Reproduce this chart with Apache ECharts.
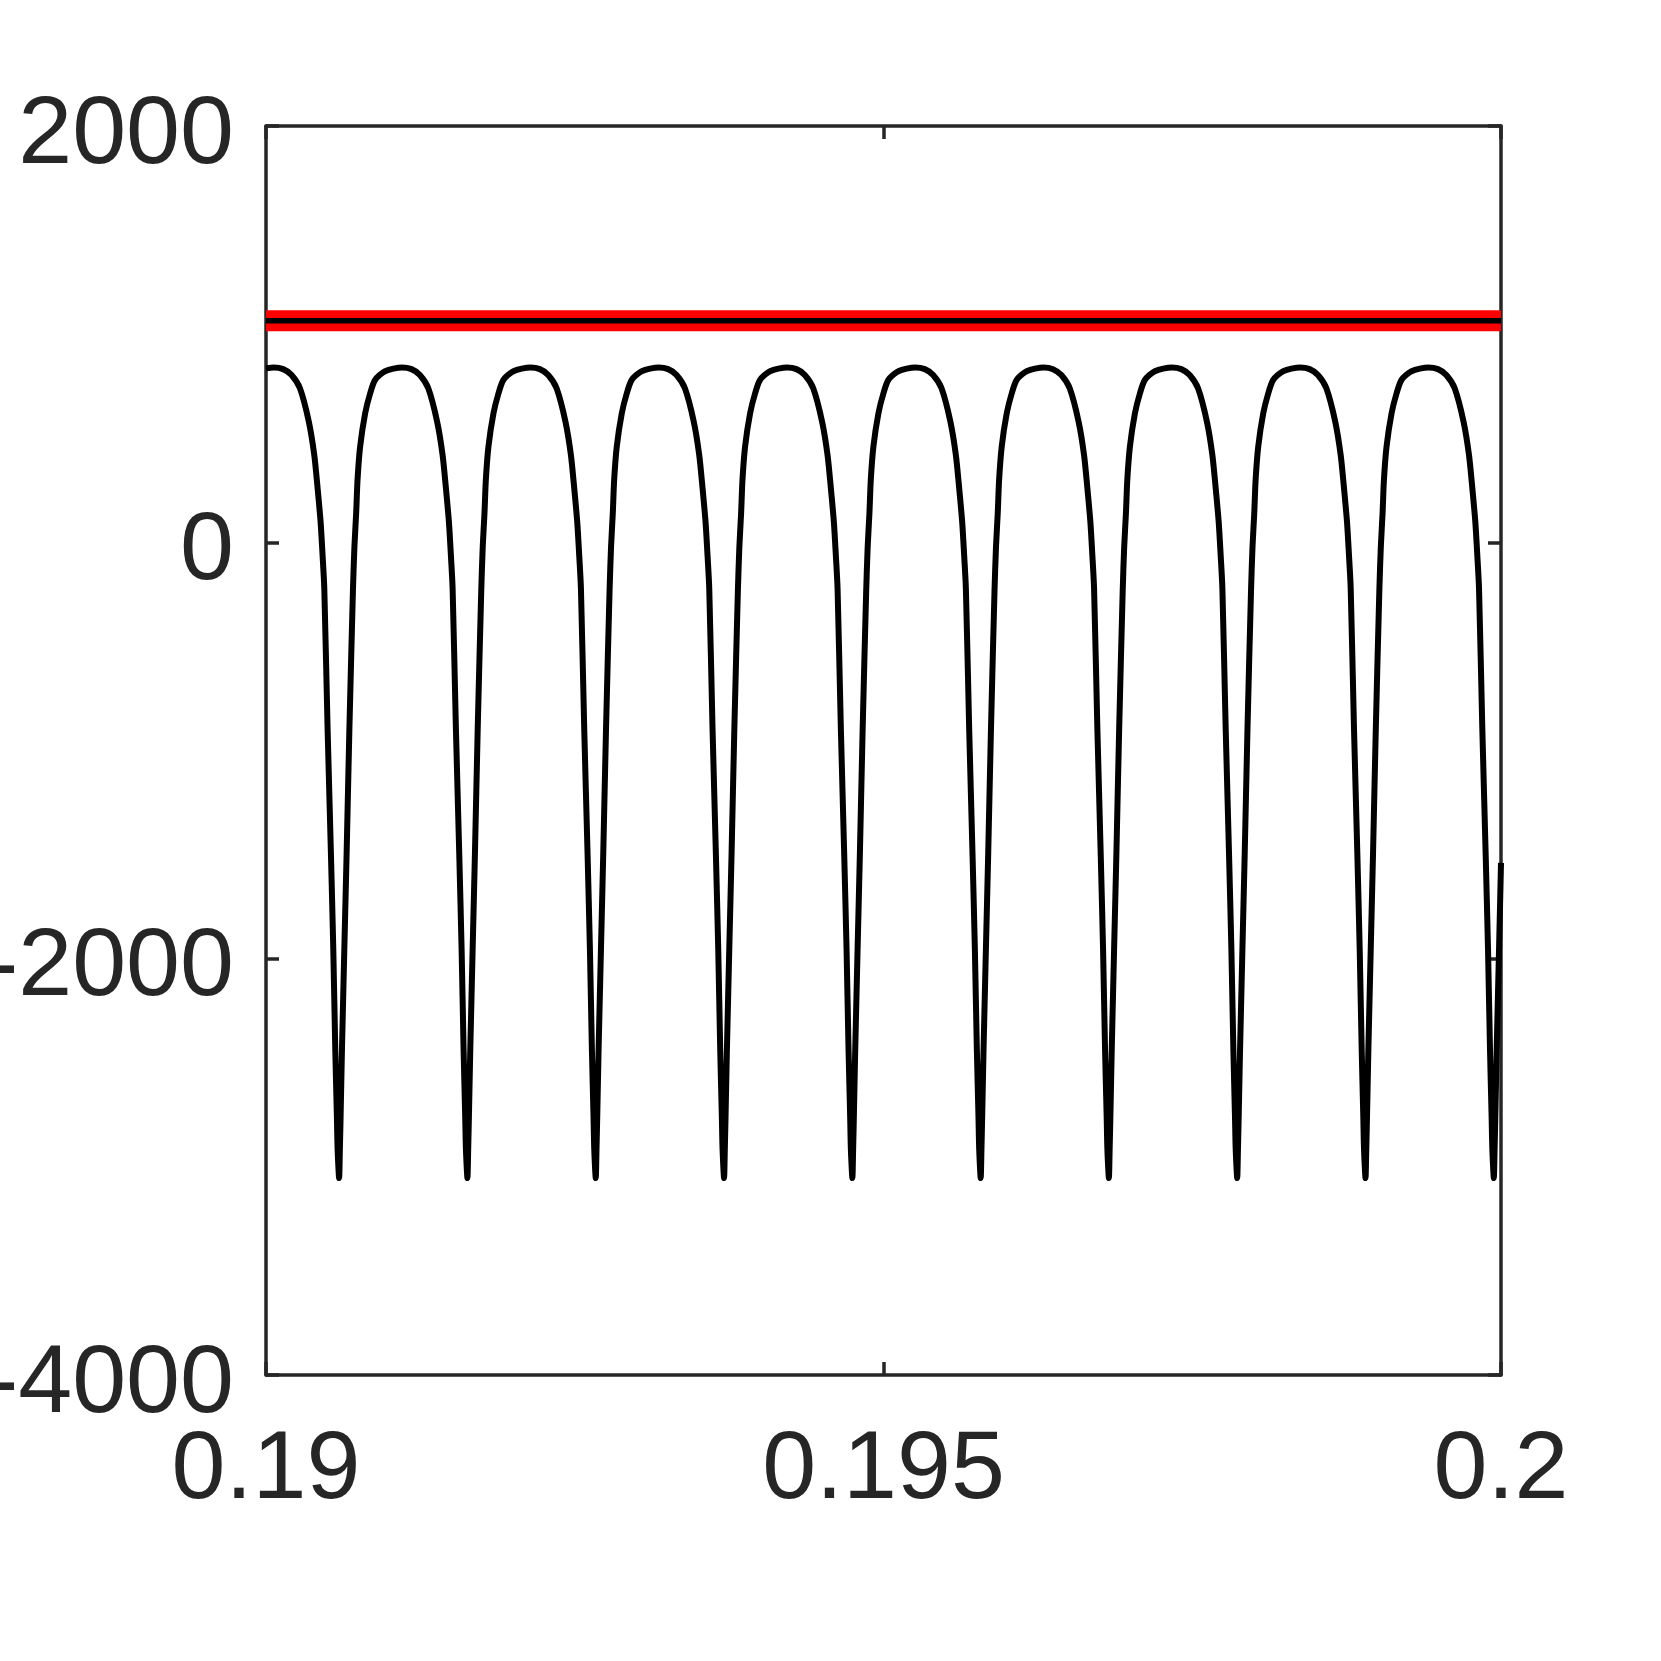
<!DOCTYPE html>
<html>
<head>
<meta charset="utf-8">
<title>signal</title>
<script src="https://cdn.jsdelivr.net/npm/echarts@6/dist/echarts.min.js"></script>
<style>
  html, body { margin: 0; padding: 0; background: #fff; }
  #chart { width: 1661px; height: 1661px; }
</style>
</head>
<body>
<div id="chart"></div>
<script>
// x ticks / y ticks
var xTicks = [0.19, 0.195, 0.2]
var yTicks = [-4000, -2000, 0, 2000]

// horizontal level (red band with black line on top)
var levelTime = [0.19, 0.2]
var levelValue = [1065, 1065]

// the oscillating trace
var time = [
  0.190000, 0.190063,
  // dip 1
  0.190139, 0.190207, 0.190275, 0.190347, 0.190391, 0.190418, 0.190442, 0.190458, 0.190472, 0.190499, 0.190526, 0.190545, 0.190561, 0.190574, 0.190580, 0.190592,
  0.190598, 0.190604, 0.190615, 0.190634, 0.190653, 0.190675, 0.190704, 0.190716, 0.190730, 0.190741, 0.190762, 0.190803, 0.190843, 0.190883, 0.190964, 0.191102,
  // dip 2
  0.191178, 0.191246, 0.191314, 0.191386, 0.191430, 0.191457, 0.191481, 0.191497, 0.191511, 0.191538, 0.191565, 0.191584, 0.191600, 0.191613, 0.191619, 0.191631,
  0.191637, 0.191643, 0.191654, 0.191673, 0.191692, 0.191714, 0.191743, 0.191755, 0.191769, 0.191780, 0.191801, 0.191842, 0.191882, 0.191922, 0.192003, 0.192141,
  // dip 3
  0.192217, 0.192285, 0.192353, 0.192425, 0.192469, 0.192496, 0.192520, 0.192536, 0.192550, 0.192577, 0.192604, 0.192623, 0.192639, 0.192652, 0.192658, 0.192670,
  0.192676, 0.192682, 0.192693, 0.192712, 0.192731, 0.192753, 0.192782, 0.192794, 0.192808, 0.192819, 0.192840, 0.192881, 0.192921, 0.192961, 0.193042, 0.193180,
  // dip 4
  0.193256, 0.193324, 0.193392, 0.193464, 0.193508, 0.193535, 0.193559, 0.193575, 0.193589, 0.193616, 0.193643, 0.193662, 0.193678, 0.193691, 0.193697, 0.193709,
  0.193715, 0.193721, 0.193732, 0.193751, 0.193770, 0.193792, 0.193821, 0.193833, 0.193847, 0.193858, 0.193879, 0.193920, 0.193960, 0.194000, 0.194081, 0.194219,
  // dip 5
  0.194295, 0.194363, 0.194431, 0.194503, 0.194547, 0.194574, 0.194598, 0.194614, 0.194628, 0.194655, 0.194682, 0.194701, 0.194717, 0.194730, 0.194736, 0.194748,
  0.194754, 0.194760, 0.194771, 0.194790, 0.194809, 0.194831, 0.194860, 0.194872, 0.194886, 0.194897, 0.194918, 0.194959, 0.194999, 0.195039, 0.195120, 0.195258,
  // dip 6
  0.195334, 0.195402, 0.195470, 0.195542, 0.195586, 0.195613, 0.195637, 0.195653, 0.195667, 0.195694, 0.195721, 0.195740, 0.195756, 0.195769, 0.195775, 0.195787,
  0.195793, 0.195799, 0.195810, 0.195829, 0.195848, 0.195870, 0.195899, 0.195911, 0.195925, 0.195936, 0.195957, 0.195998, 0.196038, 0.196078, 0.196159, 0.196297,
  // dip 7
  0.196372, 0.196440, 0.196508, 0.196580, 0.196624, 0.196651, 0.196675, 0.196691, 0.196705, 0.196732, 0.196759, 0.196778, 0.196794, 0.196807, 0.196813, 0.196825,
  0.196831, 0.196837, 0.196848, 0.196867, 0.196886, 0.196908, 0.196937, 0.196949, 0.196963, 0.196974, 0.196995, 0.197036, 0.197076, 0.197116, 0.197197, 0.197335,
  // dip 8
  0.197411, 0.197479, 0.197547, 0.197619, 0.197663, 0.197690, 0.197714, 0.197730, 0.197744, 0.197771, 0.197798, 0.197817, 0.197833, 0.197846, 0.197852, 0.197864,
  0.197870, 0.197876, 0.197887, 0.197906, 0.197925, 0.197947, 0.197976, 0.197988, 0.198002, 0.198013, 0.198034, 0.198075, 0.198115, 0.198155, 0.198236, 0.198374,
  // dip 9
  0.198450, 0.198518, 0.198586, 0.198658, 0.198702, 0.198729, 0.198753, 0.198769, 0.198783, 0.198810, 0.198837, 0.198856, 0.198872, 0.198885, 0.198891, 0.198903,
  0.198909, 0.198915, 0.198926, 0.198945, 0.198964, 0.198986, 0.199015, 0.199027, 0.199041, 0.199052, 0.199073, 0.199114, 0.199154, 0.199194, 0.199275, 0.199413,
  // dip 10
  0.199489, 0.199557, 0.199625, 0.199697, 0.199741, 0.199768, 0.199792, 0.199808, 0.199822, 0.199849, 0.199876, 0.199895, 0.199911, 0.199924, 0.199930, 0.199942,
  0.199948, 0.199954, 0.199965, 0.199984, 0.200000
]

var signal = [
  836, 840,
  // dip 1
  832, 804, 740, 579, 419, 259, 99, -61, -221, -902, -1502, -1959, -2439, -2759, -2919, -3054,
  -2919, -2759, -2439, -1959, -1490, -902, -230, -21, 139, 299, 459, 620, 715, 780, 822, 840,
  // dip 2
  832, 804, 740, 579, 419, 259, 99, -61, -221, -902, -1502, -1959, -2439, -2759, -2919, -3054,
  -2919, -2759, -2439, -1959, -1490, -902, -230, -21, 139, 299, 459, 620, 715, 780, 822, 840,
  // dip 3
  832, 804, 740, 579, 419, 259, 99, -61, -221, -902, -1502, -1959, -2439, -2759, -2919, -3054,
  -2919, -2759, -2439, -1959, -1490, -902, -230, -21, 139, 299, 459, 620, 715, 780, 822, 840,
  // dip 4
  832, 804, 740, 579, 419, 259, 99, -61, -221, -902, -1502, -1959, -2439, -2759, -2919, -3054,
  -2919, -2759, -2439, -1959, -1490, -902, -230, -21, 139, 299, 459, 620, 715, 780, 822, 840,
  // dip 5
  832, 804, 740, 579, 419, 259, 99, -61, -221, -902, -1502, -1959, -2439, -2759, -2919, -3054,
  -2919, -2759, -2439, -1959, -1490, -902, -230, -21, 139, 299, 459, 620, 715, 780, 822, 840,
  // dip 6
  832, 804, 740, 579, 419, 259, 99, -61, -221, -902, -1502, -1959, -2439, -2759, -2919, -3054,
  -2919, -2759, -2439, -1959, -1490, -902, -230, -21, 139, 299, 459, 620, 715, 780, 822, 840,
  // dip 7
  832, 804, 740, 579, 419, 259, 99, -61, -221, -902, -1502, -1959, -2439, -2759, -2919, -3054,
  -2919, -2759, -2439, -1959, -1490, -902, -230, -21, 139, 299, 459, 620, 715, 780, 822, 840,
  // dip 8
  832, 804, 740, 579, 419, 259, 99, -61, -221, -902, -1502, -1959, -2439, -2759, -2919, -3054,
  -2919, -2759, -2439, -1959, -1490, -902, -230, -21, 139, 299, 459, 620, 715, 780, 822, 840,
  // dip 9
  832, 804, 740, 579, 419, 259, 99, -61, -221, -902, -1502, -1959, -2439, -2759, -2919, -3054,
  -2919, -2759, -2439, -1959, -1490, -902, -230, -21, 139, 299, 459, 620, 715, 780, 822, 840,
  // dip 10
  832, 804, 740, 579, 419, 259, 99, -61, -221, -902, -1502, -1959, -2439, -2759, -2919, -3054,
  -2919, -2759, -2439, -1959, -1540
]

function zip(xs, ys) {
  return xs.map(function (x, i) { return [x, ys[i]] })
}

var axisColor = '#262626'
var font = '"Liberation Sans", Arial, Helvetica, sans-serif'

function frameAxis(pos, min, max, interval, showLabel, extraLabel) {
  var label = {
    show: showLabel,
    color: axisColor,
    fontSize: 97,
    fontFamily: font,
    formatter: function (v) { return String(+v.toFixed(4)) }
  }
  Object.assign(label, extraLabel || {})
  return {
    type: 'value',
    position: pos,
    min: min,
    max: max,
    interval: interval,
    axisLine: { show: true, onZero: false, lineStyle: { color: axisColor, width: 3.5 } },
    axisTick: { show: true, inside: true, length: 13, lineStyle: { color: axisColor, width: 3.5 } },
    splitLine: { show: false },
    axisLabel: label
  }
}

var chart = echarts.init(document.getElementById('chart'), null, { renderer: 'canvas' })

var option = {
  animation: false,
  backgroundColor: '#ffffff',
  grid: {
    left: 266, top: 126, width: 1235, height: 1249,
    containLabel: false,
    outerBoundsMode: 'none'
  },
  xAxis: [
    frameAxis('bottom', xTicks[0], xTicks[xTicks.length - 1], xTicks[1] - xTicks[0], true, { margin: 48 }),
    frameAxis('top', xTicks[0], xTicks[xTicks.length - 1], xTicks[1] - xTicks[0], false)
  ],
  yAxis: [
    // labels sit a little below their ticks in the original
    frameAxis('left', yTicks[0], yTicks[yTicks.length - 1], yTicks[1] - yTicks[0], true,
      { margin: 32, verticalAlign: 'top', lineHeight: 20 }),
    frameAxis('right', yTicks[0], yTicks[yTicks.length - 1], yTicks[1] - yTicks[0], false)
  ],
  series: [
    {
      // thick red band
      type: 'line',
      data: zip(levelTime, levelValue),
      symbol: 'none',
      lineStyle: { color: '#ff0000', width: 21, cap: 'butt' },
      z: 2
    },
    {
      type: 'line',
      data: zip(levelTime, levelValue),
      symbol: 'none',
      lineStyle: { color: '#000000', width: 5.5, cap: 'butt' },
      z: 3
    },
    {
      type: 'line',
      data: zip(time, signal),
      symbol: 'none',
      smooth: 0.25,
      lineStyle: { color: '#000000', width: 6, join: 'round' },
      z: 3
    }
  ]
}

chart.setOption(option)
</script>
</body>
</html>
